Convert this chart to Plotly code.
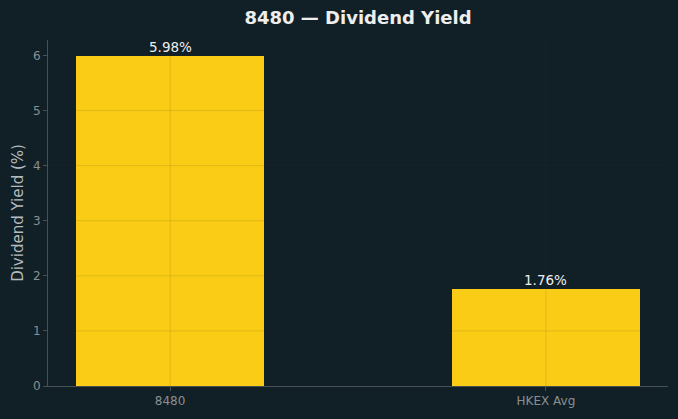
import plotly.graph_objects as go

categories = ["8480", "HKEX Avg"]
yields = [5.98, 1.76]
labels = [f"{v:.2f}%" for v in yields]
y_ticks = [0, 1, 2, 3, 4, 5, 6]

bg = "#111f26"
bar_color = "#facc15"
spine = "#4a4f52"
grid = "rgba(60,60,60,0.13)"
font = "DejaVu Sans"

fig = go.Figure()
fig.add_trace(go.Bar(
    x=[0, 1], y=yields, width=0.5,
    marker=dict(color=bar_color, line=dict(width=0)),
    hoverinfo="skip",
))
# value labels just above each bar
for i, (v, lab) in enumerate(zip(yields, labels)):
    fig.add_annotation(x=i, y=v, text=lab, showarrow=False, yanchor="bottom", yshift=-1,
                       font=dict(family=font, size=13.5, color="#eeeeee"))

# gridlines drawn above bars (as in the reference)
for t in y_ticks[1:]:
    fig.add_shape(type="line", xref="paper", x0=0, x1=1, yref="y", y0=t, y1=t,
                  line=dict(color=grid, width=1), layer="above")
for i in range(len(categories)):
    fig.add_shape(type="line", xref="x", x0=i, x1=i, yref="paper", y0=0, y1=1,
                  line=dict(color=grid, width=1), layer="above")

ymax = max(yields) * 1.05
fig.update_layout(
    width=678, height=419,
    paper_bgcolor=bg, plot_bgcolor=bg,
    margin=dict(l=48, r=10, t=40, b=33),
    showlegend=False,
    title=dict(text="<b>8480 — Dividend Yield</b>", xref="paper", x=0.5, xanchor="center",
               yref="container", y=1 - 18 / 419, yanchor="middle",
               font=dict(family=font, size=18, color="#eeeeee")),
    font=dict(family=font),
    bargap=0,
)
fig.update_xaxes(
    range=[-0.325, 1.325], tickvals=[0, 1], ticktext=categories,
    showgrid=False, zeroline=False,
    showline=True, linecolor=spine, linewidth=1,
    ticks="outside", ticklen=4, tickcolor=spine,
    tickfont=dict(family=font, size=12, color="#8a8f92"),
)
fig.update_yaxes(
    range=[0, ymax], tickvals=y_ticks,
    showgrid=False, zeroline=False,
    showline=True, linecolor=spine, linewidth=1,
    ticks="outside", ticklen=4, tickcolor=spine,
    tickfont=dict(family=font, size=12, color="#8a8f92"),
    title=dict(text="Dividend Yield (%)", font=dict(family=font, size=15, color="#b5babd"), standoff=5),
)

fig.write_html("out.html")
